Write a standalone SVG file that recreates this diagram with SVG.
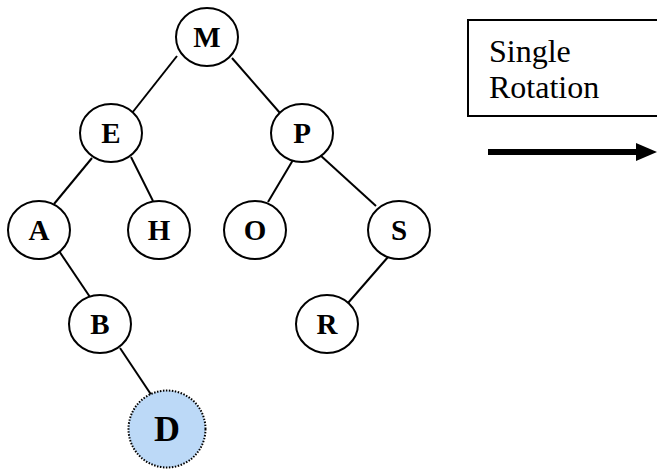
<svg xmlns="http://www.w3.org/2000/svg" width="657" height="471" viewBox="0 0 657 471">
<defs>
<style>
.n{fill:#fff;stroke:#000;stroke-width:2}
.t{font-family:'Liberation Serif','Times New Roman','DejaVu Serif',serif;font-weight:bold;font-size:29px;text-anchor:middle;fill:#000}
.l{font-family:'Liberation Serif','Times New Roman','DejaVu Serif',serif;font-size:32px;fill:#000}
.e{stroke:#000;stroke-width:2;fill:none}
</style>
</defs>
<rect width="657" height="471" fill="#fff"/>
<g id="edges">
<line class="e" x1="177" y1="56" x2="132" y2="113"/>
<line class="e" x1="232" y1="58" x2="280" y2="113"/>
<line class="e" x1="92" y1="158" x2="54" y2="204"/>
<line class="e" x1="131" y1="157" x2="153" y2="201"/>
<line class="e" x1="293" y1="160" x2="268" y2="202"/>
<line class="e" x1="320" y1="155" x2="376" y2="206"/>
<line class="e" x1="57" y1="248" x2="92" y2="300"/>
<line class="e" x1="120" y1="348" x2="152" y2="396"/>
<line class="e" x1="388" y1="257" x2="348" y2="303"/>
</g>
<g id="node-M"><ellipse class="n" cx="207" cy="37" rx="31" ry="29"/><text class="t" x="207" y="47">M</text></g>
<g id="node-E"><ellipse class="n" cx="111" cy="133" rx="31" ry="29"/><text class="t" x="111" y="143">E</text></g>
<g id="node-P"><ellipse class="n" cx="302" cy="133" rx="31" ry="29"/><text class="t" x="302" y="143">P</text></g>
<g id="node-A"><ellipse class="n" cx="39" cy="230" rx="31" ry="29"/><text class="t" x="39" y="240">A</text></g>
<g id="node-H"><ellipse class="n" cx="159" cy="230" rx="31" ry="29"/><text class="t" x="159" y="240">H</text></g>
<g id="node-O"><ellipse class="n" cx="255" cy="230" rx="31" ry="29"/><text class="t" x="255" y="240">O</text></g>
<g id="node-S"><ellipse class="n" cx="399" cy="230" rx="31" ry="29"/><text class="t" x="399" y="240">S</text></g>
<g id="node-B"><ellipse class="n" cx="100" cy="324" rx="31" ry="29"/><text class="t" x="100" y="334">B</text></g>
<g id="node-R"><ellipse class="n" cx="327" cy="324" rx="31" ry="29"/><text class="t" x="327" y="334">R</text></g>
<g id="node-D"><circle cx="167" cy="429" r="38.5" fill="#bcd9f7" stroke="#000" stroke-width="2" stroke-dasharray="1.5 1.5"/><text class="t" x="167" y="441" style="font-size:36px">D</text></g>
<g id="label">
<rect x="468" y="20" width="195" height="96" fill="#fff" stroke="#000" stroke-width="2"/>
<text class="l" x="489" y="62">Single</text>
<text class="l" x="489" y="98">Rotation</text>
</g>
<g id="arrow">
<line x1="488" y1="152" x2="640" y2="152" stroke="#000" stroke-width="6"/>
<path d="M636,143 L657,152 L636,161 z" fill="#000"/>
</g>
</svg>
